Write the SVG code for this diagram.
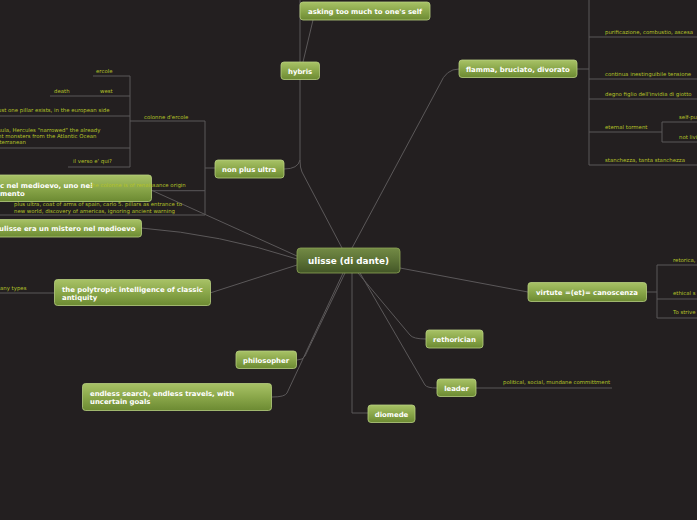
<svg xmlns="http://www.w3.org/2000/svg" width="697" height="520" viewBox="0 0 697 520">
<defs>
<linearGradient id="g" x1="0" y1="0" x2="0" y2="1">
<stop offset="0" stop-color="#a8c266"/>
<stop offset="0.5" stop-color="#8aa74a"/>
<stop offset="1" stop-color="#6c8a32"/>
</linearGradient>
<linearGradient id="gc" x1="0" y1="0" x2="0" y2="1">
<stop offset="0" stop-color="#738a45"/>
<stop offset="0.5" stop-color="#5c7236"/>
<stop offset="1" stop-color="#435627"/>
</linearGradient>
</defs>
<style>
.n{fill:url(#g);stroke:#b7cf80;stroke-width:0.8}
.c{fill:url(#gc);stroke:#8ea656;stroke-width:0.8}
.t{font-family:"DejaVu Sans",Verdana,sans-serif;font-weight:bold;font-size:6.9px;fill:#ffffff}
.tc{font-family:"DejaVu Sans",Verdana,sans-serif;font-weight:bold;font-size:8.8px;fill:#ffffff}
.s{font-family:"DejaVu Sans",Verdana,sans-serif;font-size:5.4px;fill:#b4c228}
.l{fill:none;stroke:#5b5859;stroke-width:1}
</style>
<rect width="697" height="520" fill="#231f20"/>
<g id="connectors">
<path class="l" d="M352 248 L440 84 Q446 69 459 69"/>
<path class="l" d="M342 248 L302 172 Q300 168 300 160 L300 0"/>
<path class="l" d="M303 62 L313 20"/>
<path class="l" d="M300 160 Q298 169 284 169"/>
<path class="l" d="M297 256 L151 190"/>
<path class="l" d="M297 259 Q220 234 141 228"/>
<path class="l" d="M297 265 L210 293"/>
<path class="l" d="M345 273 L305 356 Q303 360 297 360"/>
<path class="l" d="M343 273 L287 393 Q285 397 272 397"/>
<path class="l" d="M352 273 L352 413 L368 413"/>
<path class="l" d="M360 273 L425 385 Q427 388 437 388"/>
<path class="l" d="M358 273 L410 335 Q413 339 426 339"/>
<path class="l" d="M400 268 L528 292"/>
<path class="l" d="M577 69 L589 69 M589 0 L589 165 M589 37 L697 37 M589 79 L697 79 M589 99 L697 99 M589 132 L662 132 M662 122 L662 142 M662 122 L697 122 M662 142 L697 142 M589 165 L697 165"/>
<path class="l" d="M646 292 L657 292 M657 265 L657 318 M657 265 L697 265 M657 299 L697 299 M657 318 L697 318"/>
<path class="l" d="M476 388 L612 388"/>
<path class="l" d="M0 293 L54 293"/>
<path class="l" d="M215 168 L205 168 M205 121 L205 215 M130 121 L205 121 M0 190.7 L205 190.7 M0 215 L205 215"/>
<path class="l" d="M130 76 L130 167 M93 76 L130 76 M50 96 L130 96 M0 116 L130 116 M0 148 L130 148 M68 167 L130 167"/>
</g>
<g id="n-center"><rect class="c" x="297" y="248" width="103" height="25" rx="3.5"/><text class="tc" x="348.5" y="264" text-anchor="middle">ulisse (di dante)</text></g>
<g id="n-asking"><rect class="n" x="300" y="2" width="130" height="18" rx="3"/><text class="t" x="308" y="13.5">asking too much to one's self</text></g>
<g id="n-hybris"><rect class="n" x="281" y="62" width="38.5" height="17.5" rx="3"/><text class="t" x="288" y="73.5">hybris</text></g>
<g id="n-flamma"><rect class="n" x="459" y="60" width="118" height="17.5" rx="3"/><text class="t" x="466" y="71.5">flamma, bruciato, divorato</text></g>
<g id="n-nonplus"><rect class="n" x="215" y="160" width="69" height="18" rx="3"/><text class="t" x="222" y="171.5">non plus ultra</text></g>
<g id="n-medioevo2"><rect class="n" x="-10" y="175" width="161.5" height="26.5" rx="3"/><text class="t" x="0" y="187.5">c nel medioevo, uno nel</text><text class="t" x="0" y="196">mento</text></g>
<g id="n-mistero"><rect class="n" x="-5" y="219.5" width="146.5" height="17.5" rx="3"/><text class="t" x="-1" y="231">ulisse era un mistero nel medioevo</text></g>
<g id="n-polytropic"><rect class="n" x="54.5" y="279.5" width="156" height="26" rx="3"/><text class="t" x="62" y="291.5">the polytropic intelligence of classic</text><text class="t" x="62" y="300">antiquity</text></g>
<g id="n-philosopher"><rect class="n" x="236" y="351" width="60.5" height="17.5" rx="3"/><text class="t" x="243" y="362.5">philosopher</text></g>
<g id="n-endless"><rect class="n" x="82.5" y="383.5" width="189" height="27" rx="3"/><text class="t" x="90" y="395.5">endless search, endless travels, with</text><text class="t" x="90" y="404">uncertain goals</text></g>
<g id="n-diomede"><rect class="n" x="368" y="405" width="47" height="17.5" rx="3"/><text class="t" x="391.5" y="416.5" text-anchor="middle">diomede</text></g>
<g id="n-leader"><rect class="n" x="437" y="379" width="39" height="17.5" rx="3"/><text class="t" x="456.5" y="390.5" text-anchor="middle">leader</text></g>
<g id="n-rethorician"><rect class="n" x="426" y="330" width="57" height="18" rx="3"/><text class="t" x="454.5" y="341.5" text-anchor="middle">rethorician</text></g>
<g id="n-virtute"><rect class="n" x="528" y="282.5" width="118.5" height="19" rx="3"/><text class="t" x="587" y="294.5" text-anchor="middle">virtute =(et)= canoscenza</text></g>
<g id="labels">
<text class="s" x="605" y="34">purificazione, combustio, ascesa</text>
<text class="s" x="605" y="76">continua inestinguibile tensione</text>
<text class="s" x="605" y="96">degno figlio dell'invidia di giotto</text>
<text class="s" x="605" y="129">eternal torment</text>
<text class="s" x="679" y="119">self-pu</text>
<text class="s" x="679" y="139">not livi</text>
<text class="s" x="605" y="162">stanchezza, tanta stanchezza</text>
<text class="s" x="673" y="262">retorica,</text>
<text class="s" x="673" y="295">ethical s</text>
<text class="s" x="673" y="314">To strive</text>
<text class="s" x="503" y="384">political, social, mundane committment</text>
<text class="s" x="0" y="290">any types</text>
<text class="s" x="144" y="119">colonne d'ercole</text>
<text class="s" x="96" y="73">ercole</text>
<text class="s" x="54" y="93">death</text>
<text class="s" x="100" y="93">west</text>
<text class="s" x="-2" y="112">ust one pillar exists, in the european side</text>
<text class="s" x="-2" y="132">sula, Hercules "narrowed" the already</text>
<text class="s" x="-2" y="138">nt monsters from the Atlantic Ocean</text>
<text class="s" x="-2" y="144">iterranean</text>
<text class="s" x="73" y="163">il verso e' qui?</text>
<text class="s" x="90" y="187">the colonne is of renaissance origin</text>
<text class="s" x="14" y="206">plus ultra, coat of arms of spain, carlo 5. pillars as entrance to</text>
<text class="s" x="14" y="213">new world, discovery of americas, ignoring ancient warning</text>
</g>
</svg>
